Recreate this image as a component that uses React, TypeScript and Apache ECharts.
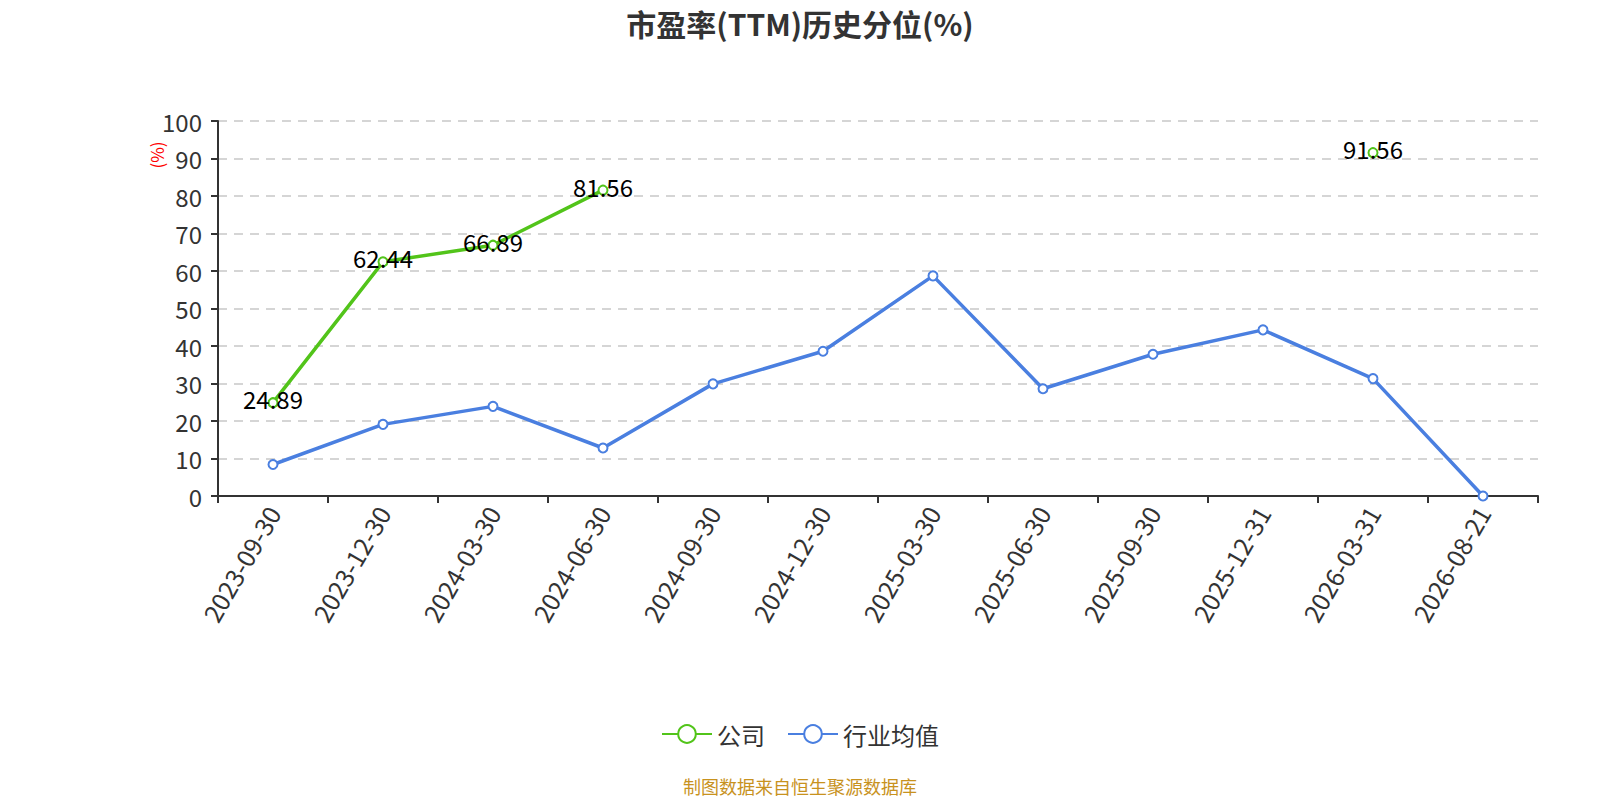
import React, { useEffect, useRef } from "react";
import * as echarts from "echarts";

const categories = [
  "2023-09-30", "2023-12-30", "2024-03-30", "2024-06-30", "2024-09-30", "2024-12-30",
  "2025-03-30", "2025-06-30", "2025-09-30", "2025-12-31", "2026-03-31", "2026-08-21",
];
const companyValues: (number | null)[] = [24.89, 62.44, 66.89, 81.56, null, null, null, null, null, null, 91.56, null];
const industryValues: number[] = [8.4, 19.1, 23.9, 12.8, 29.9, 38.6, 58.7, 28.6, 37.8, 44.3, 31.3, 0];
const yTicks = { min: 0, max: 100, interval: 10 };

const FONT = "'Noto Sans CJK SC', 'Noto Sans', sans-serif";

export default function App() {
  const ref = useRef<HTMLDivElement>(null);
  useEffect(() => {
    document.body.style.margin = "0";
    const chart = echarts.init(ref.current!, null, { renderer: "svg" });
    chart.setOption({
      animation: false,
      textStyle: { fontFamily: FONT },
      title: {
        text: "市盈率(TTM)历史分位(%)",
        left: "center",
        top: 3,
        textStyle: { fontSize: 30, fontWeight: "bold", color: "#333", fontFamily: FONT },
      },
      grid: { left: 218, right: 62, top: 121, bottom: 304 },
      legend: {
        top: 717,
        left: "center",
        itemWidth: 50,
        itemHeight: 22,
        itemGap: 22,
        textStyle: { fontSize: 24, color: "#333", fontFamily: FONT },
        data: ["公司", "行业均值"],
      },
      graphic: [
        {
          type: "text",
          left: "center",
          top: 777,
          style: { text: "制图数据来自恒生聚源数据库", fill: "#c8921e", fontSize: 18, fontFamily: FONT },
        },
        {
          type: "text",
          x: 156,
          y: 155,
          rotation: Math.PI / 2,
          style: {
            text: "(%)",
            fill: "#ff0000",
            fontSize: 17,
            fontFamily: FONT,
            align: "center",
            verticalAlign: "middle",
          },
        },
      ],
      xAxis: {
        type: "category",
        data: categories,
        boundaryGap: true,
        axisLine: { lineStyle: { color: "#333", width: 2 } },
        axisTick: { show: true, length: 7, lineStyle: { color: "#333", width: 2 } },
        axisLabel: { rotate: 60, fontSize: 25, color: "#333", margin: 12, fontFamily: FONT },
      },
      yAxis: {
        type: "value",
        min: yTicks.min,
        max: yTicks.max,
        interval: yTicks.interval,
        axisLine: { show: true, lineStyle: { color: "#333", width: 2 } },
        axisTick: { show: true, length: 7, lineStyle: { color: "#333", width: 2 } },
        axisLabel: { fontSize: 24, color: "#333", margin: 16, fontFamily: FONT },
        splitLine: { lineStyle: { type: [9, 7], color: "#c8c8c8", width: 1.5 } },
      },
      series: [
        {
          name: "公司",
          type: "line",
          data: companyValues,
          connectNulls: false,
          symbol: "emptyCircle",
          symbolSize: 9,
          lineStyle: { color: "#52c41a", width: 3.5 },
          itemStyle: { color: "#52c41a", borderWidth: 2 },
          label: {
            show: true,
            position: "inside",
            offset: [0, -4],
            fontSize: 24,
            color: "#000",
            fontFamily: FONT,
            formatter: (p: any) => Number(p.value).toFixed(2),
          },
          z: 3,
        },
        {
          name: "行业均值",
          type: "line",
          data: industryValues,
          symbol: "emptyCircle",
          symbolSize: 9,
          lineStyle: { color: "#4a7fe0", width: 3.5 },
          itemStyle: { color: "#4a7fe0", borderWidth: 2 },
          z: 2,
        },
      ],
    });
    return () => chart.dispose();
  }, []);
  return <div ref={ref} style={{ width: 1600, height: 800 }} />;
}
